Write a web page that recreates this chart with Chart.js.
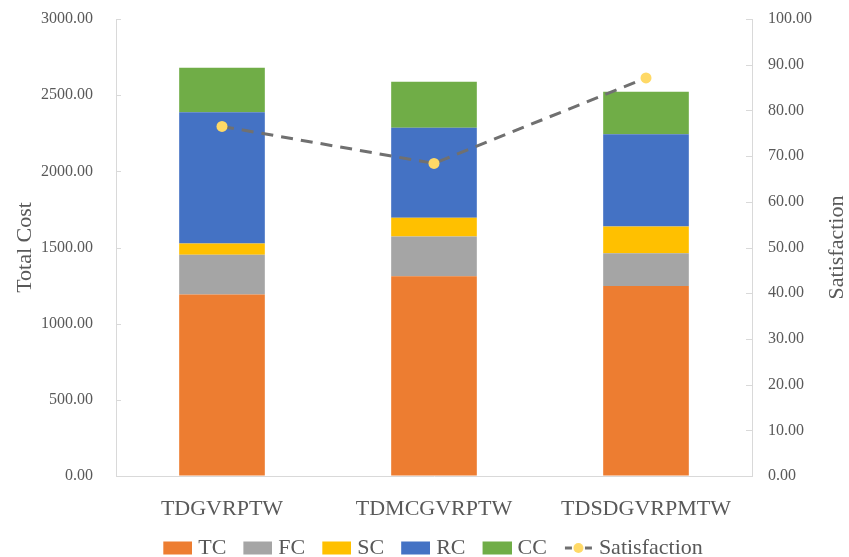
<!DOCTYPE html>
<html>
<head>
<meta charset="utf-8">
<script src="https://cdn.jsdelivr.net/npm/chart.js@4.4.1/dist/chart.umd.min.js"></script>
<style>
  html, body { margin: 0; padding: 0; background: #ffffff; }
  #wrap { width: 849px; height: 557px; }
</style>
</head>
<body>
<div id="wrap"><canvas id="chart" width="849" height="557"></canvas></div>
<script>
// Methods compared
const categories = ['TDGVRPTW', 'TDMCGVRPTW', 'TDSDGVRPMTW'];

// Cost components (stacked)
const tcValues = [1192, 1312, 1247];
const fcValues = [261, 261, 216];
const scValues = [74, 122, 175];
const rcValues = [861, 591, 606];
const ccValues = [292, 302, 278];

// Customer satisfaction (right axis)
const satisfactionValues = [76.5, 68.4, 87.1];

// Axis ticks
const costTicks = [0, 500, 1000, 1500, 2000, 2500, 3000];
const satisfactionTicks = [0, 10, 20, 30, 40, 50, 60, 70, 80, 90, 100];

const FONT = '"Liberation Serif", "Times New Roman", serif';
const TEXT = '#595959';
const AXIS = '#d9d9d9';
const CLEAR = 'rgba(0,0,0,0)';

// Legend swatches: a filled box, or a dashed line with a dot for the line series
const BOX_W = 29, BOX_H = 13, ITEM_GAP = 17;
const SWATCH_W = ITEM_GAP + BOX_W - 5;          // pointStyleWidth
const CANVAS_W = ITEM_GAP + BOX_W + 5;
function makeSwatch(ds) {
  const c = document.createElement('canvas');
  c.width = CANVAS_W; c.height = 14;
  const g = c.getContext('2d');
  const x0 = CANVAS_W - BOX_W;
  if (ds.type === 'line') {
    g.strokeStyle = ds.borderColor;
    g.lineWidth = 3;
    g.beginPath(); g.moveTo(x0 + 1, 7); g.lineTo(x0 + 8, 7); g.stroke();
    g.beginPath(); g.moveTo(x0 + 21, 7); g.lineTo(x0 + 28, 7); g.stroke();
    g.fillStyle = ds.pointBackgroundColor;
    g.beginPath(); g.arc(x0 + 14.5, 7, 5, 0, Math.PI * 2); g.fill();
  } else {
    g.fillStyle = ds.backgroundColor;
    g.fillRect(x0, 0.5, BOX_W, BOX_H);
  }
  return c;
}

// Short inward tick marks on both value axes, and the right-hand axis title
const axisDecor = {
  id: 'axisDecor',
  afterDatasetsDraw(chart) {
    const ctx = chart.ctx;
    const yL = chart.scales.y, yR = chart.scales.y1;
    const area = chart.chartArea;
    ctx.save();
    ctx.strokeStyle = AXIS;
    ctx.lineWidth = 1;
    costTicks.forEach(v => {
      const py = Math.round(yL.getPixelForValue(v)) + 0.5;
      ctx.beginPath(); ctx.moveTo(area.left, py); ctx.lineTo(area.left + 5, py); ctx.stroke();
    });
    satisfactionTicks.forEach(v => {
      const py = Math.round(yR.getPixelForValue(v)) + 0.5;
      ctx.beginPath(); ctx.moveTo(area.right - 6, py); ctx.lineTo(area.right, py); ctx.stroke();
    });
    ctx.restore();
  },
  afterDraw(chart) {
    const ctx = chart.ctx;
    const area = chart.chartArea;
    ctx.save();
    ctx.translate(837, (area.top + area.bottom) / 2);
    ctx.rotate(-Math.PI / 2);
    ctx.font = '22px ' + FONT;
    ctx.fillStyle = TEXT;
    ctx.textAlign = 'center';
    ctx.textBaseline = 'middle';
    ctx.fillText('Satisfaction', 0, 0);
    ctx.restore();
  }
};

const barDefaults = { type: 'bar', yAxisID: 'y', order: 1, borderWidth: 0,
  categoryPercentage: 0.404, barPercentage: 1.0 };

const chart = new Chart(document.getElementById('chart'), {
  data: {
    labels: categories,
    datasets: [
      Object.assign({ label: 'TC', data: tcValues, backgroundColor: '#ED7D31' }, barDefaults),
      Object.assign({ label: 'FC', data: fcValues, backgroundColor: '#A5A5A5' }, barDefaults),
      Object.assign({ label: 'SC', data: scValues, backgroundColor: '#FFC000' }, barDefaults),
      Object.assign({ label: 'RC', data: rcValues, backgroundColor: '#4472C4' }, barDefaults),
      Object.assign({ label: 'CC', data: ccValues, backgroundColor: '#70AD47' }, barDefaults),
      {
        type: 'line', label: 'Satisfaction', data: satisfactionValues, yAxisID: 'y1', order: 0,
        borderColor: '#707070', borderWidth: 3, borderDash: [12, 8], fill: false, tension: 0,
        pointRadius: 5.5, pointHoverRadius: 5.5, pointBackgroundColor: '#FFD966', pointBorderWidth: 0
      }
    ]
  },
  options: {
    responsive: false,
    animation: false,
    devicePixelRatio: 1,
    layout: { padding: { top: 19, bottom: -12, left: 0, right: 0 } },
    plugins: {
      tooltip: { enabled: false },
      legend: {
        position: 'bottom',
        labels: {
          usePointStyle: true,
          pointStyleWidth: SWATCH_W,
          padding: 0,
          color: TEXT,
          font: { family: FONT, size: 22 },
          generateLabels(ch) {
            return ch.data.datasets.map((ds, i) => ({
              text: ds.label,
              datasetIndex: i,
              pointStyle: makeSwatch(ds),
              fillStyle: ds.backgroundColor || ds.borderColor,
              strokeStyle: CLEAR,
              lineWidth: 0,
              fontColor: TEXT,
              hidden: !ch.isDatasetVisible(i)
            }));
          }
        }
      }
    },
    scales: {
      x: {
        stacked: true,
        grid: { display: true, drawOnChartArea: false, drawTicks: false },
        border: { display: true, color: AXIS, width: 1 },
        ticks: { color: TEXT, font: { family: FONT, size: 22 }, padding: 20, maxRotation: 0 },
        afterFit(s) { s.height = 61; }
      },
      y: {
        type: 'linear', position: 'left', stacked: true,
        min: 0, max: 3000,
        grid: { display: true, drawOnChartArea: false, drawTicks: true, tickLength: 20, tickColor: CLEAR },
        border: { display: true, color: AXIS, width: 1 },
        afterBuildTicks(s) { s.ticks = costTicks.map(v => ({ value: v })); },
        ticks: { color: TEXT, font: { family: FONT, size: 16 }, padding: 3,
                 callback: v => Number(v).toFixed(2) },
        title: { display: true, text: 'Total Cost', color: TEXT,
                 font: { family: FONT, size: 22 }, padding: { top: 12, bottom: 0 } },
        afterFit(s) { s.width = 116; }
      },
      y1: {
        type: 'linear', position: 'right',
        min: 0, max: 100,
        grid: { display: true, drawOnChartArea: false, drawTicks: true, tickLength: 13, tickColor: CLEAR },
        border: { display: true, color: AXIS, width: 1 },
        afterBuildTicks(s) { s.ticks = satisfactionTicks.map(v => ({ value: v })); },
        ticks: { color: TEXT, font: { family: FONT, size: 16 }, padding: 3,
                 callback: v => Number(v).toFixed(2) },
        afterFit(s) { s.width = 97; }
      }
    }
  },
  plugins: [axisDecor]
});
</script>
</body>
</html>
